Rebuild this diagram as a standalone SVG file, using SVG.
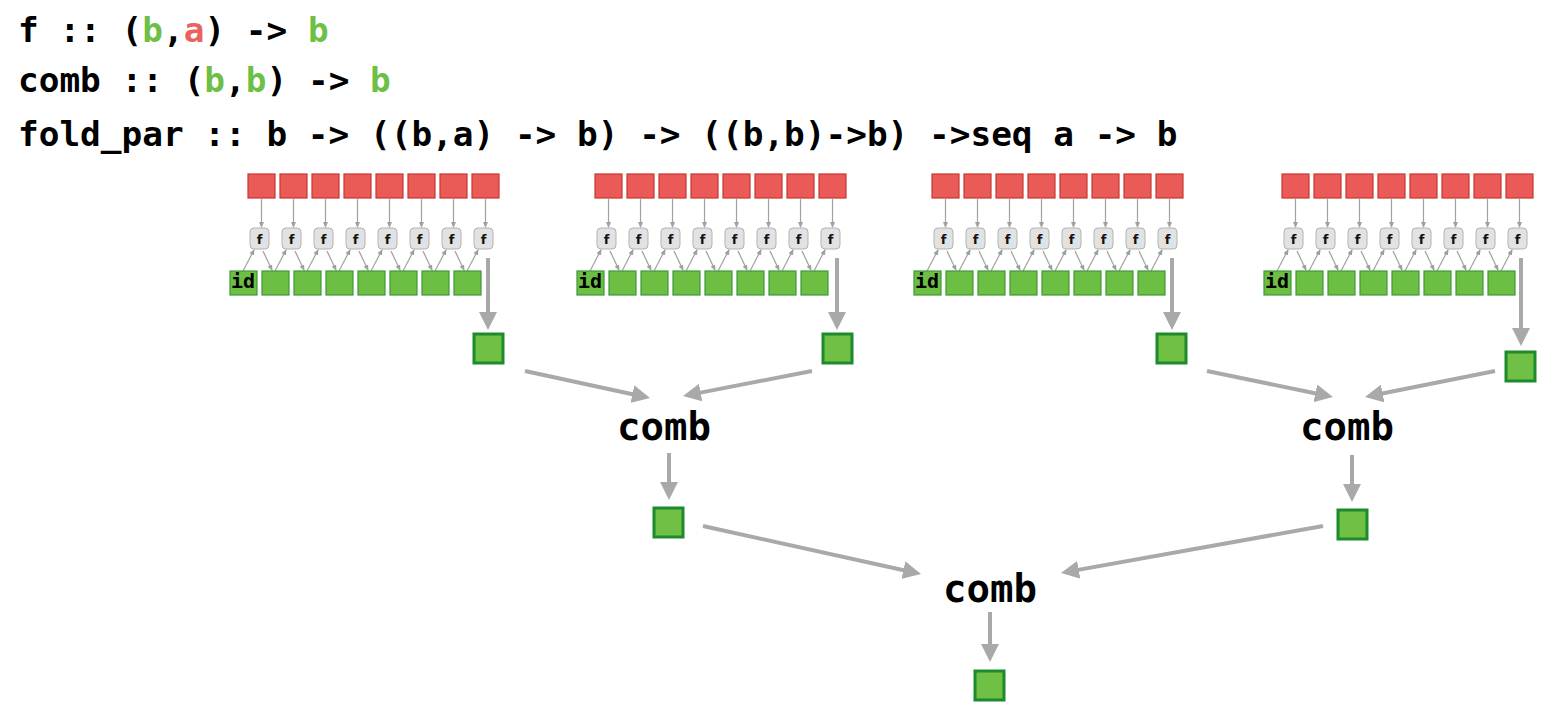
<svg xmlns="http://www.w3.org/2000/svg" width="1566" height="720" viewBox="0 0 1566 720">
<style>
.in{fill:#ea5a56;stroke:#c93631;stroke-width:1.2}
.fn rect{fill:#e2e2e2;stroke:#b3b3b3;stroke-width:1}
.fn text{font:bold 13px "DejaVu Sans",sans-serif;text-anchor:middle;fill:#111}
.acc{fill:#6cbf43;stroke:#3d9a3a;stroke-width:1.2}
.out{fill:#6fc044;stroke:#1d8a2c;stroke-width:3}
.sa{stroke:#a0a0a0;stroke-width:1.2;marker-end:url(#sh)}
.ba{stroke:#a9a9a9;stroke-width:4;marker-end:url(#bh)}
.code{font:bold 34.4px "DejaVu Sans Mono",monospace;white-space:pre;fill:#000}
.g{fill:#6dbf45}.r{fill:#e8635f}
.comb{font:bold 39px "DejaVu Sans Mono",monospace;text-anchor:middle;fill:#000}
.id{font:bold 20px "DejaVu Sans Mono",monospace;fill:#000}
</style>
<defs>
<marker id="sh" markerUnits="userSpaceOnUse" markerWidth="6" markerHeight="6" viewBox="0 0 6 6" refX="5" refY="3" orient="auto"><path d="M0,0.5 L6,3 L0,5.5 z" fill="#a0a0a0"/></marker>
<marker id="bh" markerUnits="userSpaceOnUse" markerWidth="18" markerHeight="18" viewBox="0 0 18 18" refX="12" refY="9" orient="auto"><path d="M0,0 L18,9 L0,18 z" fill="#a9a9a9"/></marker>
</defs>
<rect width="1566" height="720" fill="#fff"/>

<g id="signatures">
<text class="code" x="18" y="42">f :: (<tspan class="g">b</tspan>,<tspan class="r">a</tspan>) -&gt; <tspan class="g">b</tspan></text>
<text class="code" x="18" y="92">comb :: (<tspan class="g">b</tspan>,<tspan class="g">b</tspan>) -&gt; <tspan class="g">b</tspan></text>
<text class="code" x="18" y="146">fold_par :: b -&gt; ((b,a) -&gt; b) -&gt; ((b,b)-&gt;b) -&gt;seq a -&gt; b</text>
</g>

<g id="connectors">
<g id="conn-block1">
<line class="sa" x1="261.5" y1="199" x2="261.5" y2="227"/><line class="sa" x1="293.5" y1="199" x2="293.5" y2="227"/><line class="sa" x1="325.5" y1="199" x2="325.5" y2="227"/><line class="sa" x1="357.5" y1="199" x2="357.5" y2="227"/><line class="sa" x1="389.5" y1="199" x2="389.5" y2="227"/><line class="sa" x1="421.5" y1="199" x2="421.5" y2="227"/><line class="sa" x1="453.5" y1="199" x2="453.5" y2="227"/><line class="sa" x1="485.5" y1="199" x2="485.5" y2="227"/>
<line class="sa" x1="243" y1="271" x2="254" y2="250"/><line class="sa" x1="275" y1="271" x2="286" y2="250"/><line class="sa" x1="307" y1="271" x2="318" y2="250"/><line class="sa" x1="339" y1="271" x2="350" y2="250"/><line class="sa" x1="371" y1="271" x2="382" y2="250"/><line class="sa" x1="403" y1="271" x2="414" y2="250"/><line class="sa" x1="435" y1="271" x2="446" y2="250"/><line class="sa" x1="467" y1="271" x2="478" y2="250"/>
<line class="sa" x1="263" y1="251" x2="272" y2="270"/><line class="sa" x1="295" y1="251" x2="304" y2="270"/><line class="sa" x1="327" y1="251" x2="336" y2="270"/><line class="sa" x1="359" y1="251" x2="368" y2="270"/><line class="sa" x1="391" y1="251" x2="400" y2="270"/><line class="sa" x1="423" y1="251" x2="432" y2="270"/><line class="sa" x1="455" y1="251" x2="464" y2="270"/>
</g>
<use href="#conn-block1" transform="translate(347,0)"/>
<use href="#conn-block1" transform="translate(684,0)"/>
<use href="#conn-block1" transform="translate(1034,0)"/>
<line class="ba" x1="488" y1="258" x2="488" y2="324"/>
<line class="ba" x1="837" y1="258" x2="837" y2="324"/>
<line class="ba" x1="1172" y1="258" x2="1172" y2="324"/>
<line class="ba" x1="1521" y1="258" x2="1521" y2="340"/>
<line class="ba" x1="525" y1="371" x2="644.1" y2="396.7"/>
<line class="ba" x1="812" y1="371" x2="688.9" y2="394.9"/>
<line class="ba" x1="1207" y1="371" x2="1327.1" y2="395.7"/>
<line class="ba" x1="1495" y1="371" x2="1370.9" y2="395.8"/>
<line class="ba" x1="669" y1="453" x2="669" y2="494"/>
<line class="ba" x1="1352" y1="455" x2="1352" y2="496"/>
<line class="ba" x1="703" y1="526" x2="915.1" y2="572.7"/>
<line class="ba" x1="1323" y1="526" x2="1066.9" y2="571.9"/>
<line class="ba" x1="990" y1="612" x2="990" y2="656"/>
</g>

<g id="block1">
<g id="b1-inputs"><rect class="in" x="248" y="174" width="27" height="24"/><rect class="in" x="280" y="174" width="27" height="24"/><rect class="in" x="312" y="174" width="27" height="24"/><rect class="in" x="344" y="174" width="27" height="24"/><rect class="in" x="376" y="174" width="27" height="24"/><rect class="in" x="408" y="174" width="27" height="24"/><rect class="in" x="440" y="174" width="27" height="24"/><rect class="in" x="472" y="174" width="27" height="24"/></g>
<g id="b1-f" class="fn"><rect x="250" y="228" width="19" height="21" rx="4"/><text x="259.5" y="243.5">f</text><rect x="282" y="228" width="19" height="21" rx="4"/><text x="291.5" y="243.5">f</text><rect x="314" y="228" width="19" height="21" rx="4"/><text x="323.5" y="243.5">f</text><rect x="346" y="228" width="19" height="21" rx="4"/><text x="355.5" y="243.5">f</text><rect x="378" y="228" width="19" height="21" rx="4"/><text x="387.5" y="243.5">f</text><rect x="410" y="228" width="19" height="21" rx="4"/><text x="419.5" y="243.5">f</text><rect x="442" y="228" width="19" height="21" rx="4"/><text x="451.5" y="243.5">f</text><rect x="474" y="228" width="19" height="21" rx="4"/><text x="483.5" y="243.5">f</text></g>
<g id="b1-acc"><rect class="acc" x="230" y="271" width="27" height="24"/><text class="id" x="231" y="288">id</text><rect class="acc" x="262" y="271" width="27" height="24"/><rect class="acc" x="294" y="271" width="27" height="24"/><rect class="acc" x="326" y="271" width="27" height="24"/><rect class="acc" x="358" y="271" width="27" height="24"/><rect class="acc" x="390" y="271" width="27" height="24"/><rect class="acc" x="422" y="271" width="27" height="24"/><rect class="acc" x="454" y="271" width="27" height="24"/></g>
</g>
<use id="block2" href="#block1" transform="translate(347,0)"/>
<use id="block3" href="#block1" transform="translate(684,0)"/>
<use id="block4" href="#block1" transform="translate(1034,0)"/>

<g id="out1"><rect class="out" x="474" y="334" width="29" height="29"/></g>
<g id="out2"><rect class="out" x="823" y="334" width="29" height="29"/></g>
<g id="out3"><rect class="out" x="1157" y="334" width="29" height="29"/></g>
<g id="out4"><rect class="out" x="1506" y="352" width="29" height="29"/></g>
<g id="comb1"><text class="comb" x="664" y="440">comb</text></g>
<g id="comb2"><text class="comb" x="1347" y="440">comb</text></g>
<g id="mid1"><rect class="out" x="654" y="508" width="29" height="29"/></g>
<g id="mid2"><rect class="out" x="1338" y="510" width="29" height="29"/></g>
<g id="comb3"><text class="comb" x="990" y="602">comb</text></g>
<g id="result"><rect class="out" x="975" y="671" width="29" height="29"/></g>
</svg>
